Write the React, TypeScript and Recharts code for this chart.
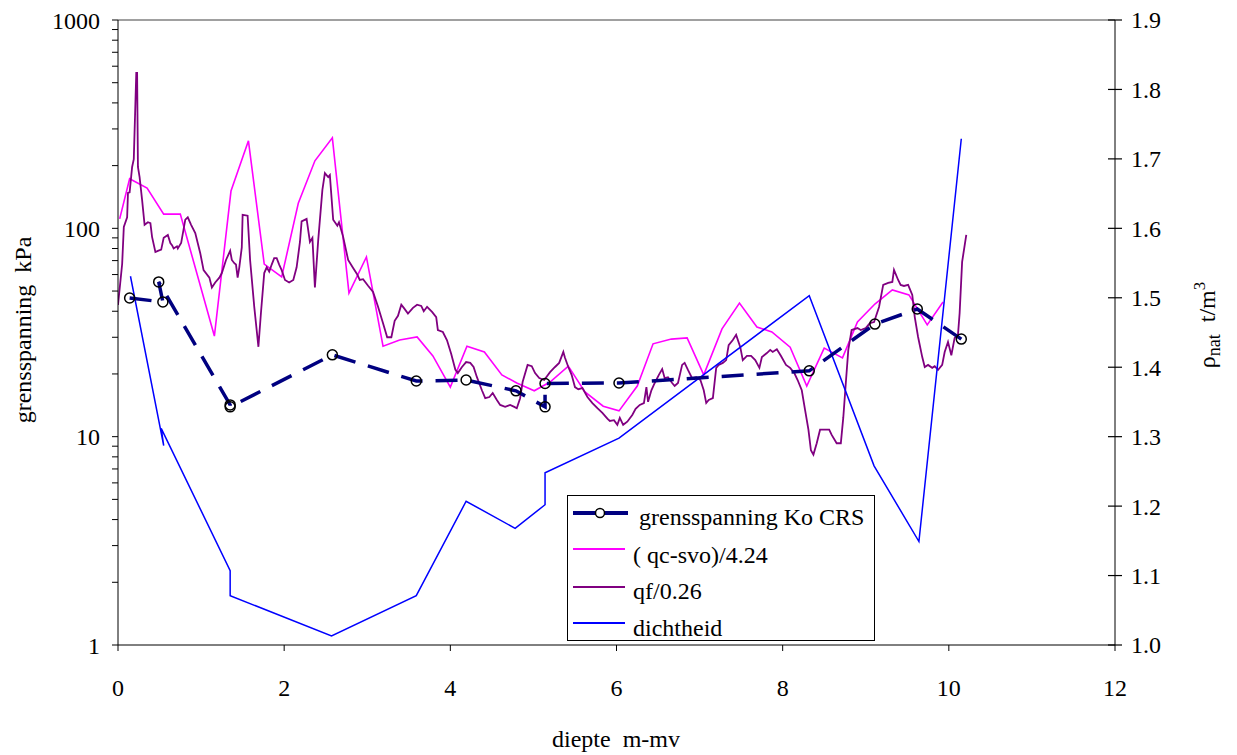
import React from "react";
import { LineChart, Line, XAxis, YAxis, ReferenceLine, Legend } from "recharts";

const FONT = '"Liberation Serif", "Times New Roman", serif';

// grensspanning Ko CRS (kPa)
const crsDepth = [0.14, 0.54, 0.49, 1.35, 1.35, 2.58, 3.59, 4.19, 4.79, 5.14, 5.14, 6.03, 8.32, 9.11, 9.62, 10.15];
const crsKpa = [46.3, 44.3, 55.3, 14.2, 13.9, 24.7, 18.5, 18.7, 16.6, 13.9, 18.0, 18.1, 20.7, 34.7, 41.0, 29.4];

// ( qc-svo)/4.24 (kPa)
const qcDepth = [0.02, 0.14, 0.35, 0.55, 0.75, 1.16, 1.36, 1.57, 1.76, 1.97, 2.17, 2.37, 2.58, 2.78, 2.99, 3.19, 3.39, 3.6, 3.79, 4.0, 4.2, 4.41, 4.62, 4.8, 5.01, 5.2, 5.42, 5.62, 5.84, 6.03, 6.25, 6.44, 6.66, 6.85, 7.05, 7.27, 7.48, 7.69, 7.87, 8.09, 8.29, 8.5, 8.72, 8.9, 9.11, 9.32, 9.52, 9.74, 9.93];
const qcKpa = [111, 173, 156, 117, 117, 30.4, 151, 263, 67.4, 58.4, 132, 211, 272, 48.9, 72.9, 27.2, 29.1, 30.1, 24.4, 17.3, 27.2, 25.5, 19.8, 18.1, 16.6, 18.3, 21.8, 16.4, 14.0, 13.3, 17.5, 27.9, 29.4, 29.8, 19.8, 32.9, 43.8, 33.6, 31.8, 26.9, 17.5, 26.6, 23.9, 35.5, 43.3, 50.6, 47.9, 34.4, 44.3];

// qf/0.26 (kPa)
const qfDepth = [
  0.0, 0.05, 0.07, 0.11, 0.12, 0.14, 0.17, 0.19, 0.22, 0.23,
  0.24, 0.26, 0.29, 0.32, 0.36, 0.39, 0.41, 0.45, 0.48, 0.52,
  0.55, 0.6, 0.63, 0.65, 0.67, 0.71, 0.72, 0.76, 0.81, 0.84,
  0.88, 0.93, 0.99, 1.03, 1.1, 1.13, 1.17, 1.22, 1.25, 1.3,
  1.35, 1.37, 1.4, 1.42, 1.44, 1.46, 1.49, 1.5, 1.56, 1.59,
  1.64, 1.69, 1.72, 1.76, 1.79, 1.82, 1.85, 1.88, 1.91, 1.94,
  1.97, 2.01, 2.06, 2.11, 2.15, 2.19, 2.21, 2.27, 2.31, 2.34,
  2.37, 2.41, 2.46, 2.49, 2.53, 2.55, 2.59, 2.64, 2.66, 2.71,
  2.77, 2.83, 2.88, 2.91, 2.95, 3.01, 3.07, 3.13, 3.19, 3.24,
  3.29, 3.33, 3.37, 3.41, 3.44, 3.49, 3.55, 3.6, 3.65, 3.68,
  3.72, 3.78, 3.83, 3.85, 3.91, 3.96, 4.01, 4.06, 4.09, 4.14,
  4.19, 4.24, 4.28, 4.32, 4.38, 4.42, 4.47, 4.51, 4.56, 4.6,
  4.66, 4.72, 4.77, 4.8, 4.84, 4.87, 4.93, 4.98, 5.02, 5.07,
  5.13, 5.2, 5.26, 5.31, 5.36, 5.38, 5.42, 5.46, 5.5, 5.54,
  5.59, 5.65, 5.71, 5.77, 5.83, 5.89, 5.92, 5.97, 6.01, 6.04,
  6.08, 6.13, 6.19, 6.23, 6.28, 6.33, 6.36, 6.38, 6.42, 6.46,
  6.51, 6.55, 6.58, 6.62, 6.67, 6.7, 6.74, 6.79, 6.82, 6.86,
  6.91, 6.96, 7.01, 7.05, 7.08, 7.11, 7.16, 7.2, 7.23, 7.28,
  7.32, 7.35, 7.4, 7.44, 7.49, 7.52, 7.57, 7.62, 7.67, 7.72,
  7.75, 7.81, 7.85, 7.88, 7.93, 7.98, 8.04, 8.09, 8.14, 8.18,
  8.23, 8.27, 8.31, 8.34, 8.37, 8.41, 8.45, 8.51, 8.56, 8.59,
  8.65, 8.7, 8.73, 8.76, 8.79, 8.83, 8.9, 8.94, 9.0, 9.05,
  9.1, 9.16, 9.21, 9.27, 9.32, 9.34, 9.39, 9.42, 9.46, 9.51,
  9.56, 9.59, 9.63, 9.68, 9.71, 9.75, 9.8, 9.83, 9.87, 9.92,
  9.95, 9.99, 10.03, 10.07, 10.11, 10.13, 10.16, 10.21,
];
const qfKpa = [
  42.9, 67.4, 101.5, 113, 148, 149, 197, 215, 557, 557,
  197, 176, 137, 104, 107, 106, 91, 77, 78, 79,
  90, 93, 85, 83, 80, 82, 80, 85, 110, 113,
  104, 95, 76, 63, 58, 52, 55, 58, 61, 70.5,
  78, 70.5, 68, 67, 58, 65, 81, 116, 115, 70.5,
  42, 27, 39, 61, 65, 62, 67, 72, 72, 67,
  63, 56.5, 55, 56.5, 65, 86, 108, 111, 86, 90,
  52, 88, 153, 184, 176, 180, 110, 103, 107, 91,
  70.5, 64.5, 60, 56.5, 57, 53, 49.5, 42, 35, 30,
  30, 36, 38, 43, 41.5, 39, 41.5, 43, 42.4, 40,
  42, 39.7, 37.5, 32.5, 31.8, 29, 25, 21, 20.2, 21.6,
  22.8, 22.6, 21.6, 19.3, 16.7, 15.3, 15.5, 16.2, 15, 14.2,
  13.9, 14.2, 13.9, 13.7, 15.3, 18.3, 22.1, 21.8, 20.2, 19.1,
  18.7, 20.4, 21.6, 22.6, 25.5, 23.9, 21.6, 19.8, 17.3, 16.9,
  17.1, 15.5, 14.5, 13.7, 13.0, 12.2, 11.9, 12.0, 11.4, 12.3,
  11.4, 11.8, 12.7, 13.6, 14.2, 14.5, 17.3, 14.7, 16.7, 18.1,
  19.8, 21.1, 19.1, 19.3, 18.1, 17.5, 18.1, 22.1, 22.6, 20.9,
  19.1, 19.3, 18.7, 16.7, 14.5, 15.0, 15.3, 21.4, 22.1, 22.6,
  23.3, 27.5, 29.1, 30.8, 26.9, 23.3, 24.4, 24.4, 23.3, 21.4,
  24.1, 25.2, 26.1, 25.5, 26.3, 24.4, 22.1, 21.4, 20.2, 18.7,
  16.7, 13.4, 10.8, 8.6, 8.2, 9.3, 10.8, 10.8, 10.8, 10.2,
  9.3, 9.3, 12.4, 18.1, 26.1, 32.5, 33.2, 32.5, 33.2, 35.1,
  35.5, 41.9, 53.5, 54.7, 55.3, 63.1, 56.5, 53.5, 52.9, 53.5,
  47.9, 37.5, 30.1, 24.1, 21.6, 22.1, 21.4, 21.8, 20.9, 22.1,
  25.5, 28.5, 24.6, 29.8, 30.8, 39.2, 69, 93,
];

// dichtheid (t/m3), right axis
const rhoDepth = [0.15, 0.55, 0.52, 1.35, 1.35, 2.57, 3.59, 4.19, 4.78, 5.14, 5.14, 6.03, 8.32, 9.1, 9.64, 10.15];
const rhoVal = [1.531, 1.287, 1.312, 1.107, 1.071, 1.013, 1.071, 1.207, 1.168, 1.202, 1.248, 1.298, 1.503, 1.258, 1.149, 1.729];

const xTicks = [0, 2, 4, 6, 8, 10, 12];
const leftMajor = [1, 10, 100, 1000];
const leftMinorSteps = [2, 3, 4, 5, 6, 7, 8, 9];
const rightTicks = [1.0, 1.1, 1.2, 1.3, 1.4, 1.5, 1.6, 1.7, 1.8, 1.9];

const seriesNames = ["grensspanning Ko CRS", "( qc-svo)/4.24", "qf/0.26", "dichtheid"];

const toPoints = (xs: number[], ys: number[]) => xs.map((x, i) => ({ x, y: ys[i] }));

const leftTicks: number[] = [];
leftMajor.forEach((m, i) => {
  leftTicks.push(m);
  if (i < leftMajor.length - 1) leftMinorSteps.forEach((s) => leftTicks.push(m * s));
});

function RightTick({ x, y, payload }: any) {
  return (
    <g>
      <line x1={x - 7} x2={x + 7} y1={y} y2={y} stroke="#000" strokeWidth={1.2} />
      <text x={x + 16} y={y} dy="0.35em" fontSize={24} fontFamily={FONT} fill="#000">
        {Number(payload.value).toFixed(1)}
      </text>
    </g>
  );
}

function LeftTitle() {
  return (
    <text
      x={31}
      y={330}
      transform="rotate(-90, 31, 330)"
      textAnchor="middle"
      fontSize={24}
      fontFamily={FONT}
      fill="#000"
    >
      grensspanning{"\u00a0\u00a0"}kPa
    </text>
  );
}

function RightTitle() {
  return (
    <text
      x={1215}
      y={325}
      transform="rotate(-90, 1215, 325)"
      textAnchor="middle"
      fontSize={24}
      fontFamily={FONT}
      fill="#000"
    >
      <tspan>ρ</tspan>
      <tspan fontSize={18} dy={5}>nat</tspan>
      <tspan dy={-5}>{"\u00a0\u00a0t/m"}</tspan>
      <tspan fontSize={17} dy={-10}>3</tspan>
    </text>
  );
}

function BottomTitle() {
  return (
    <text x={616} y={747} textAnchor="middle" fontSize={24} fontFamily={FONT} fill="#000">
      diepte{"\u00a0\u00a0"}m-mv
    </text>
  );
}

function LegendBox() {
  const txt = { fontSize: 24, fontFamily: FONT, fill: "#000" };
  return (
    <svg width={309} height={147} style={{ display: "block" }}>
      <rect x={0.5} y={0.5} width={307} height={145} fill="#fff" stroke="#000" strokeWidth={1} />
      <line x1={6} x2={61} y1={18} y2={18} stroke="#000080" strokeWidth={4} />
      <circle cx={33} cy={18} r={4.5} fill="#fff" stroke="#000" strokeWidth={1.5} />
      <text x={72} y={30} {...txt}>{seriesNames[0]}</text>
      <line x1={6} x2={58} y1={54} y2={54} stroke="#ff00ff" strokeWidth={2} />
      <text x={66} y={68} {...txt}>{seriesNames[1]}</text>
      <line x1={6} x2={58} y1={92} y2={92} stroke="#800080" strokeWidth={2} />
      <text x={66} y={104} {...txt}>{seriesNames[2]}</text>
      <line x1={6} x2={58} y1={128} y2={128} stroke="#0000ff" strokeWidth={2} />
      <text x={66} y={141} {...txt}>{seriesNames[3]}</text>
    </svg>
  );
}

export default function App() {
  const crs = toPoints(crsDepth, crsKpa);
  const qc = toPoints(qcDepth, qcKpa);
  const qf = toPoints(qfDepth, qfKpa);
  const rho = toPoints(rhoDepth, rhoVal);

  return (
    <div style={{ position: "absolute", left: 0, top: 0, width: 1237, height: 755, background: "#fff" }}>
      <LineChart width={1237} height={755} margin={{ top: 20, right: 0, bottom: 0, left: 0 }}>
        <XAxis
          dataKey="x"
          type="number"
          domain={[0, 12]}
          ticks={xTicks}
          allowDataOverflow
          height={110}
          stroke="#000"
          tickSize={6}
          tickMargin={28}
          tick={{ fill: "#000", fontSize: 24, fontFamily: FONT }}
          label={<BottomTitle />}
        />
        <YAxis
          yAxisId="left"
          orientation="left"
          type="number"
          scale="log"
          domain={[1, 1000]}
          ticks={leftTicks}
          allowDataOverflow
          width={118}
          stroke="#000"
          tickSize={6}
          tickMargin={12}
          interval={0}
          tickFormatter={(v: number) => (leftMajor.includes(v) ? String(v) : "")}
          tick={{ fill: "#000", fontSize: 24, fontFamily: FONT }}
          label={<LeftTitle />}
        />
        <YAxis
          yAxisId="right"
          orientation="right"
          type="number"
          domain={[1.0, 1.9]}
          ticks={rightTicks}
          allowDataOverflow
          width={122}
          stroke="#000"
          tickLine={false}
          tickSize={0}
          tickMargin={0}
          interval={0}
          tick={<RightTick />}
          label={<RightTitle />}
        />
        <ReferenceLine yAxisId="left" y={1000} stroke="#808080" strokeWidth={1.5} />
        <Line
          yAxisId="left"
          data={qc}
          dataKey="y"
          name={seriesNames[1]}
          stroke="#ff00ff"
          strokeWidth={1.6}
          dot={false}
          activeDot={false}
          isAnimationActive={false}
        />
        <Line
          yAxisId="left"
          data={qf}
          dataKey="y"
          name={seriesNames[2]}
          stroke="#800080"
          strokeWidth={1.8}
          dot={false}
          activeDot={false}
          isAnimationActive={false}
        />
        <Line
          yAxisId="right"
          data={rho}
          dataKey="y"
          name={seriesNames[3]}
          stroke="#0000ff"
          strokeWidth={1.5}
          dot={false}
          activeDot={false}
          isAnimationActive={false}
        />
        <Line
          yAxisId="left"
          data={crs}
          dataKey="y"
          name={seriesNames[0]}
          stroke="#000080"
          strokeWidth={3.5}
          strokeDasharray="22 13"
          dot={{ r: 5, stroke: "#000", strokeWidth: 1.5, fill: "none", strokeDasharray: "0" }}
          activeDot={false}
          isAnimationActive={false}
        />
        <Legend
          layout="horizontal"
          verticalAlign="middle"
          align="center"
          content={<LegendBox />}
          wrapperStyle={{ left: 567, top: 495, width: 309, height: 147 }}
        />
      </LineChart>
    </div>
  );
}
